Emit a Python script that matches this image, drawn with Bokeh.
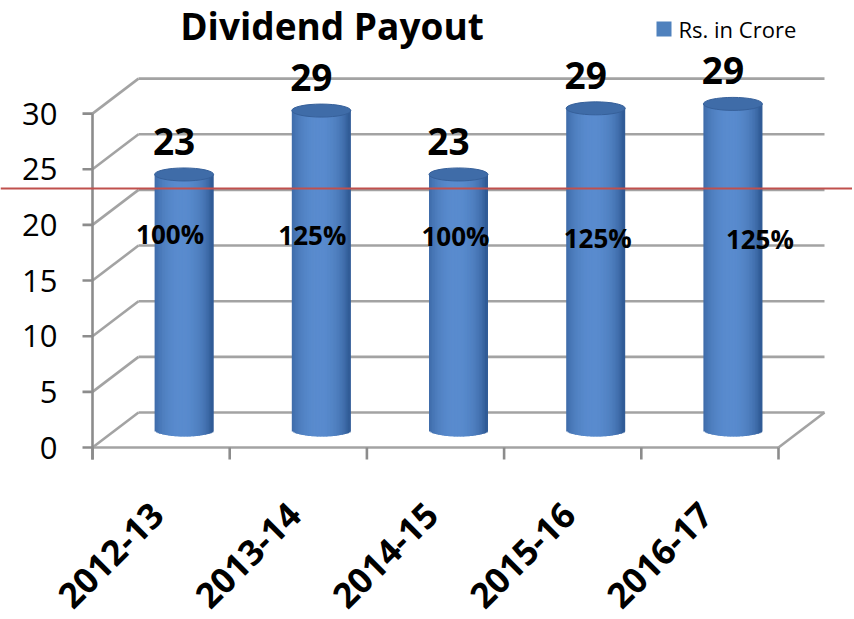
import math
from bokeh.plotting import figure
from bokeh.models import Range1d, Span
from bokeh.core.properties import value
from bokeh.embed import file_html
from bokeh.resources import INLINE

# ---------------- data ----------------
categories = ["2012-13", "2013-14", "2014-15", "2015-16", "2016-17"]
dividend_cr = [22.96, 28.7, 22.96, 28.9, 29.3]
value_labels = ["23", "29", "23", "29", "29"]
payout_pct = ["100%", "125%", "100%", "125%", "125%"]
y_ticks = [0, 5, 10, 15, 20, 25, 30]
reference_level = 23.27
legend_label = "Rs. in Crore"
title_text = "Dividend Payout"

# ---------------- geometry (page pixels -> data units) ----------------
PX_X = 137.2        # pixels per category
PX_Y = 11.13        # pixels per value unit
X0, Y0 = 92, 447    # page pixel of the front-left origin
OFF = 0             # page offset of the figure
W, H = 852, 619
DX = 46 / PX_X      # depth offset of back wall (data units)
DY = 35 / PX_Y
YMAX = 30
FONT = value("Open Sans")

p = figure(width=W, height=H, output_backend="svg", toolbar_location=None,
           x_range=Range1d((OFF - X0) / PX_X, (OFF + W - X0) / PX_X),
           y_range=Range1d((Y0 - (OFF + H)) / PX_Y, (Y0 - OFF) / PX_Y),
           min_border=0, outline_line_color=None)
p.axis.visible = False
p.grid.visible = False
p.background_fill_color = "white"
p.border_fill_color = "white"

n = len(categories)
grid_col = "#a3a3a3"

# back-wall gridlines and left-wall diagonals
for t in y_ticks:
    p.line([DX, n + DX], [t + DY, t + DY], line_color=grid_col, line_width=2.6)
    p.line([0, DX], [t, t + DY], line_color=grid_col, line_width=2.6)
# floor front edge and right edge
p.line([0, n], [0, 0], line_color=grid_col, line_width=2.6)
p.line([n, n + DX], [0, DY], line_color=grid_col, line_width=2.6)
# vertical axis line
p.line([0, 0], [-12 / PX_Y, YMAX], line_color="#8c8c8c", line_width=2.6)
# y ticks
for t in y_ticks:
    p.line([-10 / PX_X, 0], [t, t], line_color="#8c8c8c", line_width=2.6)
# x ticks
for i in range(n + 1):
    p.line([i, i], [0, -12 / PX_Y], line_color="#8c8c8c", line_width=2.6)

# y tick labels
p.text(x=[-35 / PX_X] * len(y_ticks), y=y_ticks, text=[str(t) for t in y_ticks],
       text_align="right", text_baseline="middle", text_font=FONT,
       text_font_size="31px", text_color="black")

# ---------------- cylinders ----------------
half_w = 29.5 / PX_X
b = 6.5 / PX_Y
NS = 40
dark = (0x2c, 0x56, 0x90)
light = (0x5a, 0x8c, 0xcf)


def mix(f):
    c = [int(dark[k] + (light[k] - dark[k]) * f) for k in range(3)]
    return "#%02x%02x%02x" % tuple(c)


for i, v in enumerate(dividend_cr):
    cx = i + 0.5 + 0.5 * DX
    base = 0.5 * DY
    top = v + 0.5 * DY
    lefts, rights, bottoms, tops, cols = [], [], [], [], []
    for k in range(NS):
        u0 = -1 + 2 * k / NS
        u1 = -1 + 2 * (k + 1) / NS
        um = (u0 + u1) / 2
        f = max(0.0, 1 - (um + 0.1) ** 2) ** 0.7
        lefts.append(cx + u0 * half_w)
        rights.append(cx + min(u1 + 0.04, 1.0) * half_w)
        bottoms.append(base - b * math.sqrt(max(0.0, 1 - um * um)))
        tops.append(top)
        cols.append(mix(0.12 + 0.88 * f))
    p.quad(left=lefts, right=rights, bottom=bottoms, top=tops,
           fill_color=cols, line_color=None)
    p.ellipse(x=[cx], y=[top], width=[2 * half_w], height=[2 * b],
              fill_color="#3f6ca8", line_color="#36609a", line_width=1)

# value labels and payout labels
pct_nudge = [-14, -9, -3, 2, 27]
val_x = [i + 0.5 + 0.5 * DX - 10 / PX_X for i in range(n)]
val_y = [v + 0.5 * DY + 33 / PX_Y for v in dividend_cr]
p.text(x=val_x, y=val_y, text=value_labels, text_align="center",
       text_baseline="middle", text_font=FONT, text_font_style="bold",
       text_font_size="37px", text_color="black")
pct_x = [i + 0.5 + 0.5 * DX + pct_nudge[i] / PX_X for i in range(n)]
pct_y = [(Y0 - 17.5 - 233) / PX_Y + 0.5 * DY - i * 0.12 for i in range(n)]
p.text(x=pct_x, y=pct_y, text=payout_pct, text_align="center",
       text_baseline="middle", text_font=FONT, text_font_style="bold",
       text_font_size="26px", text_color="black")

# category labels (rotated)
p.text(x=[i + 0.5 - 0.03 for i in range(n)], y=[-61 / PX_Y] * n, text=categories,
       angle=math.pi / 4, text_align="right", text_baseline="middle",
       text_font=FONT, text_font_style="bold", text_font_size="35px",
       text_color="black")

# title
p.text(x=[(331.5 - X0) / PX_X], y=[(Y0 - 25) / PX_Y], text=[title_text],
       text_align="center", text_baseline="middle", text_font=FONT,
       text_font_style="bold", text_font_size="37px", text_color="black")

# legend (square + label)
p.rect(x=[(663.5 - X0) / PX_X], y=[(Y0 - 28.5) / PX_Y], width=15, height=15,
       width_units="screen", height_units="screen", fill_color="#4f81bd",
       line_color=None)
p.text(x=[(678 - X0) / PX_X], y=[(Y0 - 28.5) / PX_Y], text=[legend_label],
       text_align="left", text_baseline="middle", text_font=FONT,
       text_font_size="22px", text_color="black")

# red reference line
p.add_layout(Span(location=reference_level, dimension="width",
                  line_color="#c0504d", line_width=2))

open("out.html", "w").write(file_html(p, INLINE))
